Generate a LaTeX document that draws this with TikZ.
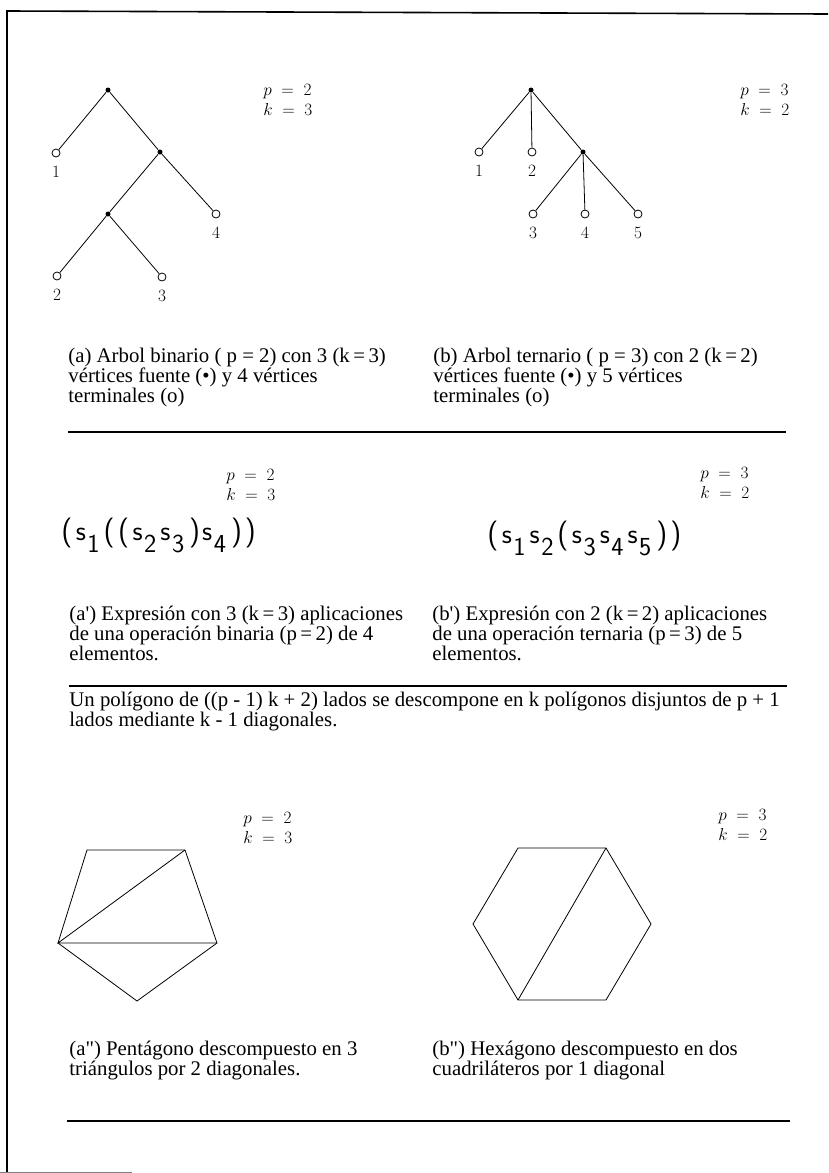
\documentclass[tikz,border=0pt]{standalone}
\usepackage{fontspec}
\setmainfont{Liberation Serif}
\usetikzlibrary{positioning}
\newcommand{\sx}[1]{s\kern1.5pt\raisebox{-12pt}{\fontsize{26}{26}\selectfont #1}\kern4pt}
\newcommand{\pa}{{\fontsize{30}{30}\selectfont(}\kern3.5pt}
\newcommand{\pc}{\kern1pt{\fontsize{30}{30}\selectfont)}\kern2pt}

\begin{document}
\begin{tikzpicture}[x=1pt, y=-1pt, line width=0.8pt,
  fuente/.style={circle,fill,inner sep=0pt,minimum size=5pt},
  term/.style={circle,draw,inner sep=0pt,minimum size=8pt},
  num/.style={font=\fontsize{16}{16}\selectfont,inner sep=0pt},
  pk/.style={font=\fontsize{16}{20}\selectfont,align=left,anchor=west,inner sep=0pt},
  leyenda/.style={font=\fontsize{20.8}{20}\selectfont,align=left,anchor=north west,inner sep=0pt},
  expr/.style={font=\fontsize{28}{28}\sffamily\selectfont,anchor=base west,inner sep=0pt},
  regla/.style={line width=1.2pt}]
  \useasboundingbox (0,0) rectangle (828,1173);
  % frame
  \draw[line width=1.6pt] (828,14) -- (7,11) -- (7,1173);
  \draw[gray,line width=1pt] (0,1172) -- (132,1172);

  % (a) binary tree
  \node[fuente] (ra) at (108,90) {};
  \node[fuente] (fa1) at (160,152) {};
  \node[fuente] (fa2) at (108,214) {};
  \node[term] (ta1) at (56,153) {};
  \node[term] (ta4) at (216,214) {};
  \node[term] (ta2) at (57,276) {};
  \node[term] (ta3) at (162,277) {};
  \draw (ra) -- (ta1);
  \draw (ra) -- (fa1);
  \draw (fa1) -- (fa2);
  \draw (fa1) -- (ta4);
  \draw (fa2) -- (ta2);
  \draw (fa2) -- (ta3);
  \foreach \t/\lbl in {ta1/1, ta4/4, ta2/2, ta3/3}
    \node[num, below=9pt of \t] {$\lbl$};
  \node[pk] (pka) at (263,100) {$p\;=\;2$\\$k\;=\;3$};

  % (b) ternary tree
  \node[fuente] (rb) at (531,90) {};
  \node[fuente] (fb1) at (583,152) {};
  \node[term] (tb1) at (479,152) {};
  \node[term] (tb2) at (532,152) {};
  \node[term] (tb3) at (533,214) {};
  \node[term] (tb4) at (585,214) {};
  \node[term] (tb5) at (638,214) {};
  \draw (rb) -- (tb1);
  \draw (rb) -- (tb2);
  \draw (rb) -- (fb1);
  \foreach \t in {tb3, tb4, tb5}
    \draw (fb1) -- (\t);
  \foreach \t/\lbl in {tb1/1, tb2/2, tb3/3, tb4/4, tb5/5}
    \node[num, below=9pt of \t] {$\lbl$};
  \node[pk] (pkb) at (740,100) {$p\;=\;3$\\$k\;=\;2$};

  \node[leyenda] (capa) at (68,348) {(a) Arbol binario ( p = 2) con 3 (k\,=\,3)\\v\'ertices fuente (\textbullet) y 4 v\'ertices\\terminales (o)};
  \node[leyenda] (capb) at (433,348) {(b) Arbol ternario ( p = 3) con 2 (k\,=\,2)\\v\'ertices fuente (\textbullet) y 5 v\'ertices\\terminales (o)};
  \draw[regla] (68,432) -- (786,432);

  % (a') (b') expressions
  \node[pk] (pkc) at (226,485) {$p\;=\;2$\\$k\;=\;3$};
  \node[expr] (expa) at (61,540) {\pa\sx{1}\pa\pa\sx{2}\sx{3}\pc\sx{4}\pc\pc};
  \node[pk] (pkd) at (700,483) {$p\;=\;3$\\$k\;=\;2$};
  \node[expr] (expb) at (487,543) {\pa\sx{1}\sx{2}\pa\sx{3}\sx{4}\sx{5}\pc\pc};
  \node[leyenda] (capc) at (69,606) {(a\textquotesingle) Expresi\'on con 3 (k\,=\,3) aplicaciones\\de una operaci\'on binaria (p\,=\,2) de 4\\elementos.};
  \node[leyenda] (capd) at (432,606) {(b\textquotesingle) Expresi\'on con 2 (k\,=\,2) aplicaciones\\de una operaci\'on ternaria (p\,=\,3) de 5\\elementos.};
  \draw[regla] (69,686) -- (787,686);
  \node[leyenda] (regl) at (69,692) {Un pol\'igono de ((p - 1) k + 2) lados se descompone en k pol\'igonos disjuntos de p + 1\\lados mediante k - 1 diagonales.};

  % (a'') pentagon
  \node[pk] (pke) at (243,828) {$p\;=\;2$\\$k\;=\;3$};
  \coordinate (pa1) at (87,850);
  \coordinate (pa2) at (185,850);
  \coordinate (pa3) at (217,943);
  \coordinate (pa4) at (137,1001);
  \coordinate (pa5) at (58,943);
  \draw (pa1) -- (pa2) -- (pa3) -- (pa4) -- (pa5) -- cycle;
  \draw (pa2) -- (pa5) -- (pa3);

  % (b'') hexagon
  \node[pk] (pkf) at (718,825) {$p\;=\;3$\\$k\;=\;2$};
  \coordinate (hx1) at (518,848);
  \coordinate (hx2) at (606,848);
  \coordinate (hx3) at (651,924);
  \coordinate (hx4) at (606,1000);
  \coordinate (hx5) at (518,1000);
  \coordinate (hx6) at (473,924);
  \draw (hx1) -- (hx2) -- (hx3) -- (hx4) -- (hx5) -- (hx6) -- cycle;
  \draw (hx2) -- (hx5);

  \node[leyenda] (cape) at (69,1041) {(a\textquotedbl) Pent\'agono descompuesto en 3\\tri\'angulos por 2 diagonales.};
  \node[leyenda] (capf) at (432,1041) {(b\textquotedbl) Hex\'agono descompuesto en dos\\cuadril\'ateros por 1 diagonal};
  \draw[regla] (67,1121) -- (790,1121);
\end{tikzpicture}
\end{document}
